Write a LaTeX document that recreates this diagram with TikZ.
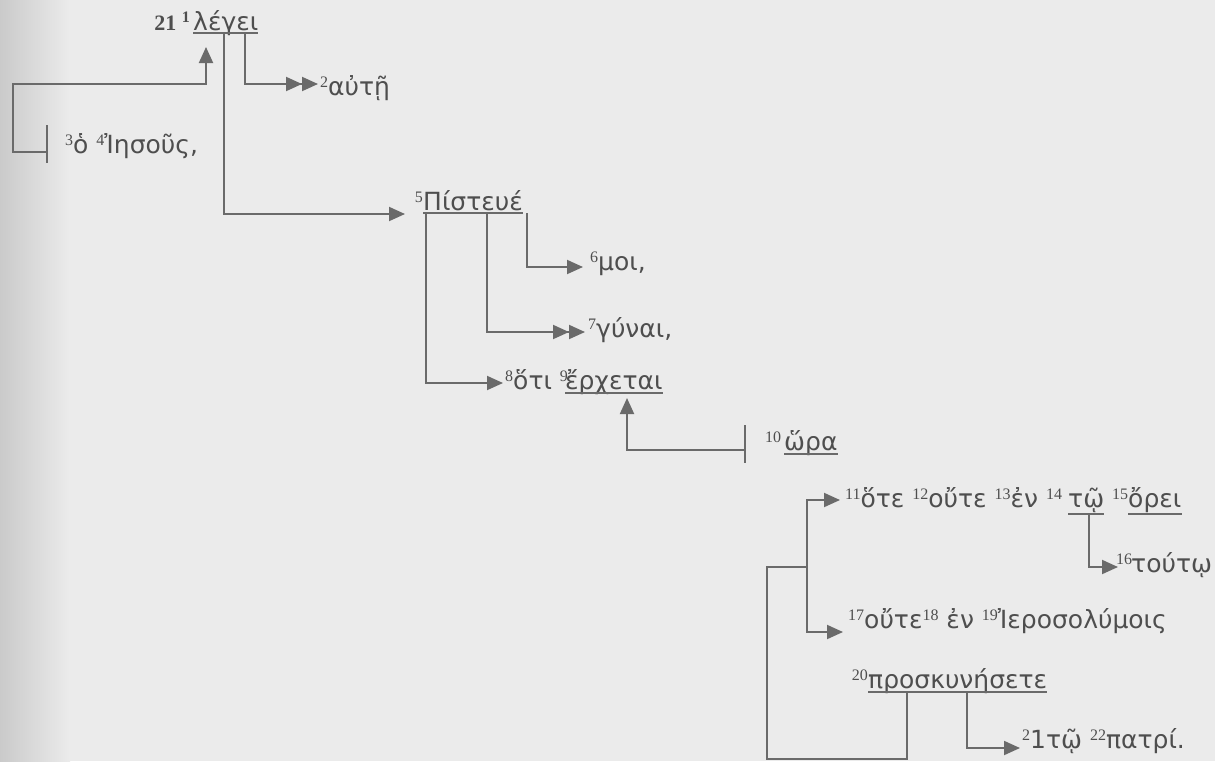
\documentclass[tikz,border=0pt]{standalone}
\usepackage{fontspec}
\setmainfont{Liberation Serif}
\newfontfamily\grk{DejaVu Sans}
\usetikzlibrary{arrows.meta,calc}
\definecolor{paper}{HTML}{EBEBEB}
\definecolor{ink}{HTML}{4E4E4E}
\definecolor{wire}{HTML}{6A6A6A}
\newcommand{\vn}[1]{\raisebox{8pt}{\fontsize{16}{16}\selectfont\rmfamily #1}}

\begin{document}
\begin{tikzpicture}[x=1pt, y=-1pt,
  every node/.style={inner sep=0pt, anchor=base west, text=ink},
  gk/.style={font=\grk\fontsize{25}{30}\selectfont},
  line/.style={draw=wire, line width=1.9pt},
  arr/.style={line, -{Triangle[length=16pt,width=14pt]}},
  darr/.style={line, -{Triangle[length=16pt,width=14pt] Triangle[length=16pt,width=14pt]}},
  uline/.style={draw=wire, line width=1.5pt}]
  % page
  \fill[paper] (0,0) rectangle (1215,761);
  \shade[left color=paper!86!black, right color=paper] (0,0) rectangle (70,761);
  \useasboundingbox (0,0) rectangle (1215,761);

  % main clause
  \node[gk] (legei) at (193,30) {λέγει};
  \node[anchor=base east] (verse) at ([xshift=-3pt]legei.base west) {\fontsize{22}{22}\selectfont\bfseries 21 \vn{1}};
  \node[gk] (aute) at (320,95) {\vn{2}αὐτῇ};
  \node[gk] (iesous) at (65,153) {\vn{3}ὁ \vn{4}Ἰησοῦς,};

  % direct speech
  \node[gk] (pist) at (423,210) {Πίστευέ};
  \node[anchor=base east] (pist-n) at (pist.base west) {\vn{5}};
  \node[gk] (moi) at (590,270) {\vn{6}μοι,};
  \node[gk] (gynai) at (588,337) {\vn{7}γύναι,};
  \node[gk] (hoti) at (505,389) {\vn{8}ὅτι \vn{9}};
  \node[gk] (erch) at (565,389) {ἔρχεται};
  \node[gk] (hora-n) at (765,450) {\vn{10}};
  \node[gk] (hora) at (784,450) {ὥρα};

  % hote clause
  \node[gk] (hote) at (845,507) {\vn{11}ὅτε \vn{12}οὔτε \vn{13}ἐν \vn{14}};
  \node[gk] (tw) at (1068,507) {τῷ};
  \node[gk] (orei-n) at (1112,507) {\vn{15}};
  \node[gk] (orei) at (1128,507) {ὄρει};
  \node[gk] (touto) at (1116,572) {\vn{16}\kern-1pt τούτῳ};
  \node[gk] (oute) at (848,628) {\vn{17}οὔτε\vn{18} ἐν \vn{19}Ἰεροσολύμοις};
  \node[gk] (prosk) at (868,688) {προσκυνήσετε};
  \node[anchor=base east] (prosk-n) at (prosk.base west) {\vn{20}};
  \node[gk] (patri) at (1022,748) {\vn{2}1τῷ \vn{22}πατρί.};

  % underlines
  \foreach \w/\d in {legei/3,pist/3,erch/4,hora/4,tw/7,orei/7,prosk/4} {
    \draw[uline] ([yshift=-\d pt]\w.base west) -- ([yshift=-\d pt]\w.base east);
  }

  % subject
  \draw[line] ([shift={(-18,-28)}]iesous.base west) -- ++(0,38);
  \draw[arr] ([shift={(-18,-1)}]iesous.base west) -| ++(-34,-68) -| ([shift={(13,17)}]legei.base west);

  % lines from the verb
  \draw[arr] ([shift={(31,3)}]legei.base west) |- ([shift={(-18,4)}]pist.base west);
  \draw[darr] ([shift={(52,3)}]legei.base west) |- ([shift={(-2,-11)}]aute.base west);

  % branches under Pisteue
  \draw[arr] ([shift={(104,3)}]pist.base west) |- ([shift={(-7,-3)}]moi.base west);
  \draw[darr] ([shift={(64,3)}]pist.base west) |- ([shift={(-3,-5)}]gynai.base west);
  \draw[arr] ([shift={(3,3)}]pist.base west) |- ([shift={(-2,-6)}]hoti.base west);

  % subject of erchetai
  \draw[line] ([shift={(-39,-25)}]hora.base west) -- ++(0,38);
  \draw[arr] ([shift={(-39,0)}]hora.base west) -| ([shift={(62,9)}]erch.base west);

  % hote ... oute ... proskynesete
  \coordinate (fork) at (807,567);
  \draw[arr] (fork) |- ([shift={(-5,-7)}]hote.base west);
  \draw[arr] (fork) |- ([shift={(-5,4)}]oute.base west);
  \draw[line] (fork) -- ++(-40,0) |- ++(140,192) -- ([shift={(39,4)}]prosk.base west);
  \draw[arr] ([shift={(21,7)}]tw.base west) |- ([shift={(2,-5)}]touto.base west);
  \draw[arr] ([shift={(99,4)}]prosk.base west) |- ([shift={(-2,0)}]patri.base west);
\end{tikzpicture}
\end{document}
